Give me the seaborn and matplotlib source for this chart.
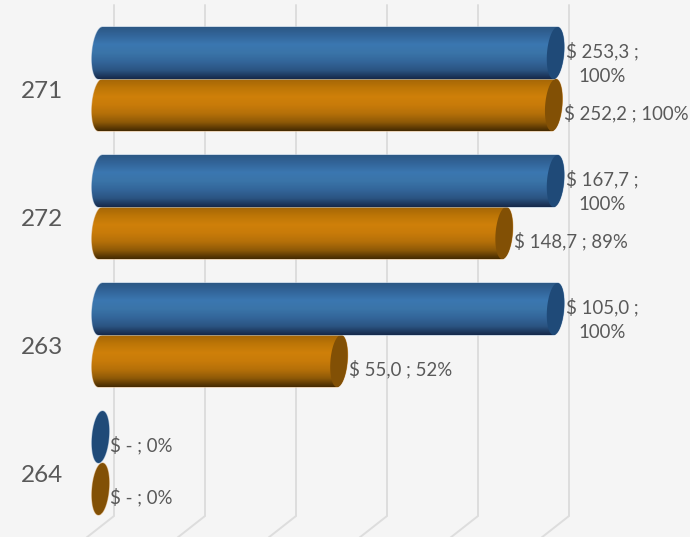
import numpy as np
import pandas as pd
import matplotlib
matplotlib.use("Agg")
import matplotlib.pyplot as plt
from matplotlib.patches import Polygon
from matplotlib.colors import LinearSegmentedColormap
from matplotlib.transforms import ScaledTranslation
import seaborn as sns

# ---------- data ----------
categories = ["271", "272", "263", "264"]
series_names = ["Blue", "Orange"]
blue_amounts = [253.3, 167.7, 105.0, 0.0]
orange_amounts = [252.2, 148.7, 55.0, 0.0]
blue_pct = [100.0, 100.0, 100.0, 0.0]
orange_pct = [99.6, 88.7, 52.4, 0.0]
blue_labels = ["$ 253,3 ;\n100%", "$ 167,7 ;\n100%", "$ 105,0 ;\n100%", "$ - ; 0%"]
orange_labels = ["$ 252,2 ; 100%", "$ 148,7 ; 89%", "$ 55,0 ; 52%", "$ - ; 0%"]
grid_ticks = [0, 20, 40, 60, 80, 100]

# ---------- styles ----------
BG = "#f5f5f5"
TXT = "#595959"
GRID = "#dddddd"
FONT = "Lato"
W, H = 690, 537
AX_L = 72            # axes left edge, px
X0_PX, PX_PER_PCT = 100.5, 4.55
Y0_PX, PX_PER_CAT = 79.0, 128.0
BAR_PX = 52.0
RX_PX, TILT_PX = 8.5, 2.0
DEPTH_PX = 13.5
blue_stops = ["#2c5885", "#33669b", "#3b77b1", "#3a74a8", "#33669a", "#2b5482", "#16294a"]
orange_stops = ["#a56606", "#bd7607", "#cf800a", "#c87b09", "#b57009", "#8e5907", "#442a02"]
blue_cap = "#1f4a78"
orange_cap = "#825005"
blue_edge = "#a9c0d8"
orange_edge = "#e0b98a"

sns.set_theme(style="white")
plt.rcParams["font.family"] = [FONT, "DejaVu Sans"]

fig = plt.figure(figsize=(W / 100, H / 100), dpi=100, facecolor=BG)
ax = fig.add_axes([AX_L / W, 0, 1 - AX_L / W, 1], facecolor=BG)

df = pd.DataFrame({
    "category": categories * 2,
    "series": [series_names[0]] * 4 + [series_names[1]] * 4,
    "pct": blue_pct + orange_pct,
})
sns.barplot(data=df, y="category", x="pct", hue="series", order=categories,
            hue_order=series_names, palette=[blue_stops[2], orange_stops[2]],
            width=2 * BAR_PX / PX_PER_CAT, gap=0, dodge=True, legend=False,
            saturation=1, ax=ax, zorder=3)

xlim = ((AX_L - X0_PX) / PX_PER_PCT, (W - X0_PX) / PX_PER_PCT)
ylim = ((H - Y0_PX) / PX_PER_CAT, -Y0_PX / PX_PER_CAT)
ax.set_xlim(xlim)
ax.set_ylim(ylim)

for s in ax.spines.values():
    s.set_visible(False)
ax.set_xlabel("")
ax.set_ylabel("")
ax.set_xticks([])
ax.tick_params(axis="y", length=0, pad=6.5, labelsize=17.5, labelcolor=TXT)
down = ScaledTranslation(0, -11 / 100, fig.dpi_scale_trans)
for t in ax.get_yticklabels():
    t.set_fontfamily([FONT, "DejaVu Sans"])
    t.set_transform(t.get_transform() + down)

# back wall gridlines and floor strokes
dx = DEPTH_PX / PX_PER_PCT
grid_top = (5 - Y0_PX) / PX_PER_CAT
grid_bot = (516 - Y0_PX) / PX_PER_CAT
floor_bot = (538 - Y0_PX) / PX_PER_CAT
floor_dx = 28 / PX_PER_PCT
for g in grid_ticks:
    ax.plot([g + dx, g + dx, g + dx - floor_dx], [grid_top, grid_bot, floor_bot],
            color=GRID, lw=1.4, zorder=1, solid_joinstyle="miter")

rx = RX_PX / PX_PER_PCT
tilt = TILT_PX / PX_PER_PCT


def ellipse_pts(cx, cy, ry, t0, t1, n=60):
    t = np.linspace(t0, t1, n)
    ys = np.sin(t)
    # tilt: top of the ellipse leans to the right (y axis is inverted)
    return np.column_stack([cx + rx * np.cos(t) - tilt * ys, cy + ry * ys])


bars = list(ax.patches)
bar_order = sorted(range(len(bars)), key=lambda i: -bars[i].get_y())
grad = np.linspace(0, 1, 128).reshape(-1, 1)
for z, i in enumerate(bar_order):
    b = bars[i]
    is_blue = i < 4
    x1 = b.get_width()
    y0, hgt = b.get_y(), b.get_height()
    cy = y0 + hgt / 2
    ry = hgt / 2
    zz = 3 + z * 0.1
    body = np.vstack([
        ellipse_pts(0, cy, ry, np.pi * 1.5, np.pi * 0.5),
        ellipse_pts(x1, cy, ry, np.pi * 0.5, -np.pi * 0.5),
    ])
    clip = Polygon(body, closed=True, transform=ax.transData, facecolor="none",
                   edgecolor=blue_edge if is_blue else orange_edge, lw=0.8, zorder=zz - 0.01)
    ax.add_patch(clip)
    b.set_zorder(zz)
    b.set_clip_path(clip)
    cmap = LinearSegmentedColormap.from_list("c", blue_stops if is_blue else orange_stops)
    if x1 > 0:
        im = ax.imshow(grad, cmap=cmap, vmin=0, vmax=1, aspect="auto", origin="upper",
                       extent=(-2 * rx, x1 + 2 * rx, y0 + hgt, y0), zorder=zz + 0.01,
                       interpolation="bilinear")
        im.set_clip_path(clip)
        ax.set_xlim(xlim)
        ax.set_ylim(ylim)
    cap = ellipse_pts(x1, cy, ry, 0, 2 * np.pi, 90)
    ax.add_patch(Polygon(cap, closed=True, facecolor=blue_cap if is_blue else orange_cap,
                         edgecolor="none", zorder=zz + 0.02))

# data labels
for i, b in enumerate(bars):
    is_blue = i < 4
    idx = i if is_blue else i - 4
    x1 = b.get_width()
    cy = b.get_y() + b.get_height() / 2
    label = (blue_labels if is_blue else orange_labels)[idx]
    two_line = "\n" in label
    ax.annotate(label, xy=(x1, cy), xycoords="data",
                xytext=((RX_PX + 1.5) * 0.72, -(10 if two_line else 8) * 0.72),
                textcoords="offset points", ha="left", va="center",
                multialignment="center", fontsize=13.4, color=TXT, linespacing=1.55,
                family=[FONT, "DejaVu Sans"], zorder=10, annotation_clip=False)

fig.savefig("out.png", dpi=100, facecolor=BG)
